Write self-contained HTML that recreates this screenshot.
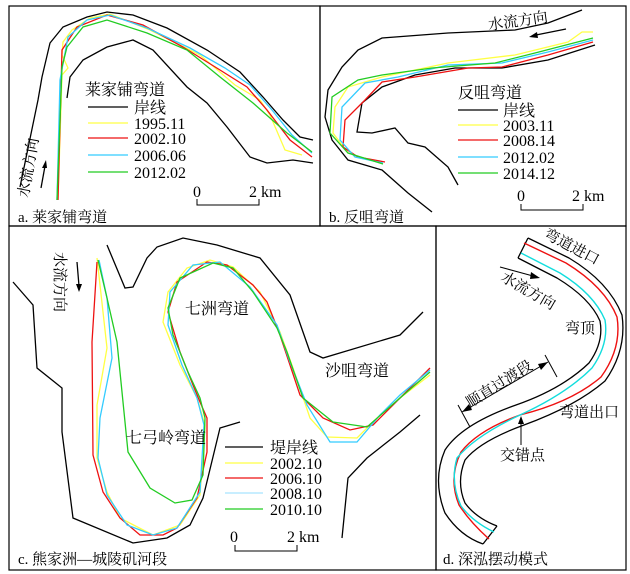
<!DOCTYPE html>
<html><head><meta charset="utf-8"><style>
html,body{margin:0;padding:0;background:#fff;}
svg{display:block;}
text{font-family:"Liberation Serif","Noto Serif CJK SC","Noto Sans CJK SC",serif;fill:#000;}
</style></head><body>
<svg width="630" height="574" viewBox="0 0 630 574" xmlns="http://www.w3.org/2000/svg">
<g fill="none" stroke="#000" stroke-width="1.2">
<rect x="9" y="6" width="311" height="220"/>
<rect x="320" y="6" width="306" height="220"/>
<rect x="9" y="226" width="427" height="344"/>
<rect x="436" y="226" width="190" height="344"/>
</g>
<!-- Panel a -->
<g fill="none" stroke-width="1.3">
<polyline stroke="#000" points="20,187 38,100 42,77 50,43 63,27 87,17 107,12 133,15 167,28 207,50 240,72 263,97 283,120 300,137 313,140"/>
<polyline stroke="#000" points="67,98 70,77 83,60 107,47 133,40 153,50 187,87 207,103 227,127 250,157 267,163 293,160 313,163"/>
<polyline stroke="#ffff44" points="58,200 62,75 68,68 62,55 63,42 72,30 90,18 110,14 150,30 200,55 235,85 260,100 270,115 285,150 302,155"/>
<polyline stroke="#ee1111" points="58,200 62,50 77,27 107,15 143,25 183,47 220,70 247,87 267,110 290,140 312,157"/>
<polyline stroke="#33ccff" points="57,200 60,80 68,37 87,20 110,15 147,28 190,48 225,68 250,85 272,110 292,135 312,153"/>
<polyline stroke="#22cc22" points="57,200 62,67 67,47 83,27 107,20 147,33 187,50 220,77 253,103 287,133 312,152"/>
<line stroke="#000" x1="88" y1="107" x2="128" y2="107"/>
<line stroke="#ffff44" x1="88" y1="123" x2="128" y2="123"/>
<line stroke="#ee1111" x1="88" y1="138" x2="128" y2="138"/>
<line stroke="#33ccff" x1="88" y1="155" x2="128" y2="155"/>
<line stroke="#22cc22" x1="88" y1="172" x2="128" y2="172"/>
<polyline stroke="#000" stroke-width="1" points="197,199 197,205 259,205 259,199"/>
<line stroke="#000" x1="41" y1="188" x2="45" y2="166"/>
</g>
<polygon points="46,160 42,168 47,168" fill="#000"/>
<g font-size="16">
<text x="85" y="95">莱家铺弯道</text>
<text x="134" y="113">岸线</text>
<text x="134" y="129">1995.11</text>
<text x="134" y="144">2002.10</text>
<text x="134" y="161">2006.06</text>
<text x="134" y="178">2012.02</text>
<text x="193" y="197">0</text>
<text x="249" y="197">2 km</text>
<text x="18" y="222" font-size="15">a. 莱家铺弯道</text>
<text transform="translate(28,198) rotate(-80)" font-size="15">水流方向</text>
</g>
<!-- Panel b -->
<g fill="none" stroke-width="1.3">
<polyline stroke="#000" points="582,10 548,23 515,30 448,33 382,38 358,50 342,67 328,90 325,117 332,140 348,160 382,170 408,193 432,212"/>
<polyline stroke="#000" points="595,45 548,60 502,68 455,68 415,75 382,87 362,103 357,132 372,133 395,128 408,143 425,147 448,167 458,185"/>
<polyline stroke="#ffff44" points="593,32 582,32 568,42 515,55 448,63 382,77 348,87 335,107 333,133 348,153"/>
<polyline stroke="#ee1111" points="593,42 548,55 502,67 468,68 415,77 382,82 365,100 345,120 343,147 358,157 385,162"/>
<polyline stroke="#33ccff" points="593,40 548,52 502,63 448,65 398,77 365,83 342,107 340,140 355,157 383,163"/>
<polyline stroke="#22cc22" points="593,38 535,53 495,63 432,68 382,75 358,80 332,97 330,133 348,153 383,164"/>
<line stroke="#000" x1="458" y1="110" x2="498" y2="110"/>
<line stroke="#ffff44" x1="458" y1="125" x2="498" y2="125"/>
<line stroke="#ee1111" x1="458" y1="140" x2="498" y2="140"/>
<line stroke="#33ccff" x1="458" y1="157" x2="498" y2="157"/>
<line stroke="#22cc22" x1="458" y1="173" x2="498" y2="173"/>
<polyline stroke="#000" stroke-width="1" points="521,204 521,210 583,210 583,204"/>
<line stroke="#000" x1="566" y1="29" x2="536" y2="35"/>
</g>
<polygon points="529,37 537,32 538,38" fill="#000"/>
<g font-size="16">
<text x="458" y="98">反咀弯道</text>
<text x="503" y="116">岸线</text>
<text x="503" y="131">2003.11</text>
<text x="503" y="146">2008.14</text>
<text x="503" y="163">2012.02</text>
<text x="503" y="179">2014.12</text>
<text x="517" y="201">0</text>
<text x="572" y="201">2 km</text>
<text x="329" y="222" font-size="15">b. 反咀弯道</text>
<text transform="translate(489,30) rotate(-8)" font-size="15">水流方向</text>
</g>
<!-- Panel c -->
<g fill="none" stroke-width="1.3">
<polyline stroke="#000" points="13,282 33,305 37,368 62,388 62,432 73,518 133,543 167,538 190,525 203,498 220,428 240,422"/>
<polyline stroke="#000" points="107,245 125,288 133,287 147,258 157,247 183,238 217,245 260,258 290,295 310,352 323,358 400,335 423,312"/>
<polyline stroke="#000" points="342,538 348,478 367,458 400,432 420,415"/>
<polyline stroke="#ffff44" points="97,258 107,348 97,405 97,458 107,492 120,518 153,535 180,525 200,495 205,425 197,398 180,365 163,322 168,292 187,268 210,260 233,267 260,292 280,332 293,368 310,418 327,437 357,438 377,418 400,398 430,375"/>
<polyline stroke="#ee1111" points="97,262 92,342 93,455 103,492 120,518 140,535 163,535 177,528 197,498 207,452 207,418 200,402 193,385 180,352 168,312 177,282 207,262 227,265 253,285 267,302 280,335 300,395 323,418 350,430 373,425 400,398 430,368"/>
<polyline stroke="#33ccff" points="99,260 107,298 112,358 100,418 98,458 107,495 127,525 153,535 177,528 200,492 204,425 197,398 182,365 168,325 170,292 193,265 220,262 250,287 277,325 290,362 307,405 330,442 357,442 380,415 400,395 430,370"/>
<polyline stroke="#22cc22" points="98,260 107,298 117,342 128,452 150,488 175,503 192,500 203,475 205,418 200,398 188,372 173,335 168,308 180,278 213,263 233,268 253,292 277,328 287,352 303,398 333,422 367,427 400,398 430,372"/>
<line stroke="#000" x1="225" y1="447" x2="263" y2="447"/>
<line stroke="#ffff44" x1="225" y1="463" x2="263" y2="463"/>
<line stroke="#ee1111" x1="225" y1="478" x2="263" y2="478"/>
<line stroke="#c8eeff" stroke-width="2" x1="225" y1="493" x2="263" y2="493"/>
<line stroke="#22cc22" x1="225" y1="509" x2="263" y2="509"/>
<polyline stroke="#000" stroke-width="1" points="235,545 235,551 297,551 297,545"/>
<line stroke="#000" x1="77" y1="262" x2="79" y2="286"/>
</g>
<polygon points="79,292 76,284 82,284" fill="#000"/>
<g font-size="16">
<text x="185" y="314">七洲弯道</text>
<text x="325" y="376">沙咀弯道</text>
<text x="126" y="443">七弓岭弯道</text>
<text x="270" y="453">堤岸线</text>
<text x="270" y="469">2002.10</text>
<text x="270" y="484">2006.10</text>
<text x="270" y="499">2008.10</text>
<text x="270" y="515">2010.10</text>
<text x="230" y="542">0</text>
<text x="287" y="542">2 km</text>
<text x="18" y="564" font-size="15">c. 熊家洲—城陵矶河段</text>
<text transform="translate(55,252) rotate(90)" font-size="15">水流方向</text>
</g>
<!-- Panel d -->
<g fill="none" stroke-linejoin="round">
<path d="M528,238 L569,258 Q609,282 622,315 Q627,350 605,381 Q576,406 524,425 Q480,441 465,460 Q456,482 465,503 Q476,518 497,526" stroke="#000" stroke-width="1.3"/>
<path d="M518,258 L557,278 Q590,298 600,321 Q604,342 589,363 Q562,389 516,405 Q462,424 445,450 Q432,480 445,513 Q460,536 483,544" stroke="#000" stroke-width="1.3"/>
<line x1="518" y1="258" x2="528" y2="238" stroke="#000" stroke-width="1.3"/>
<line x1="483" y1="544" x2="497" y2="526" stroke="#000" stroke-width="1.3"/>
<path d="M524,243 L566,263 Q605,287 617,317 Q622,348 601,377 Q572,402 520,415 Q478,430 461,452 Q448,478 459,505 Q470,522 489,539" stroke="#ee1111" stroke-width="1.4"/>
<path d="M521,253 L560,273 Q594,294 605,320 Q609,344 592,368 Q566,394 520,415 Q475,436 457,458 Q450,482 461,506 Q473,522 494,532" stroke="#11dddd" stroke-width="1.4"/>
<line x1="500" y1="267" x2="533" y2="276" stroke="#000" stroke-width="1"/>
<line x1="462" y1="412" x2="548" y2="362" stroke="#000" stroke-width="1"/>
<line x1="458" y1="405" x2="470" y2="427" stroke="#000" stroke-width="1"/>
<line x1="545" y1="355" x2="557" y2="377" stroke="#000" stroke-width="1"/>
<line x1="521" y1="445" x2="521" y2="422" stroke="#000" stroke-width="1"/>
</g>
<polygon points="540,278 531,272 530,279" fill="#000"/>
<polygon points="462,412 469,404 472,410" fill="#000"/>
<polygon points="548,362 538,364 541,370" fill="#000"/>
<polygon points="521,416 518,424 524,424" fill="#000"/>
<g font-size="15">
<text transform="translate(543,237) rotate(28)">弯道进口</text>
<text transform="translate(500,280) rotate(30)">水流方向</text>
<text x="565" y="333">弯顶</text>
<text transform="translate(470,408) rotate(-32)">顺直过渡段</text>
<text x="559" y="417">弯道出口</text>
<text x="500" y="460">交错点</text>
<text x="443" y="564">d. 深泓摆动模式</text>
</g>
</svg>
</body></html>
